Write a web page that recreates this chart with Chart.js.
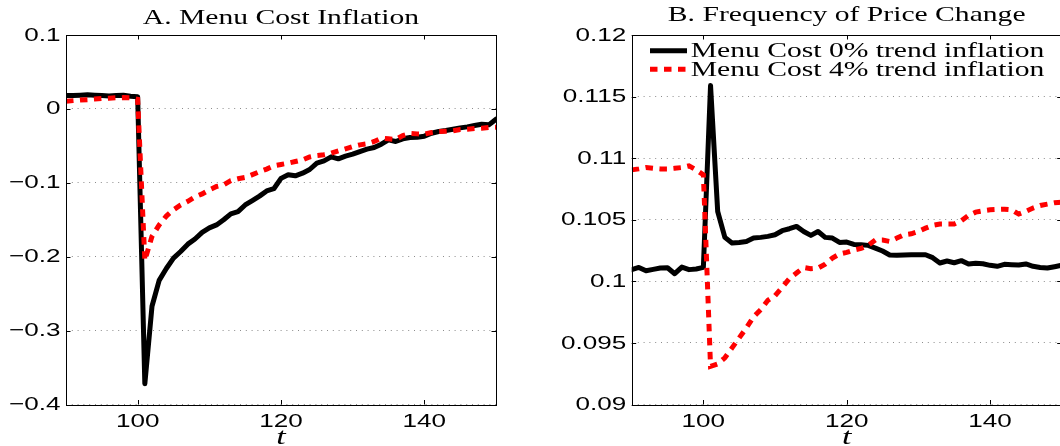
<!DOCTYPE html>
<html>
<head>
<meta charset="utf-8">
<title>Menu cost inflation and frequency of price change</title>
<script src="https://cdn.jsdelivr.net/npm/chart.js@4.4.1/dist/chart.umd.min.js"></script>
<style>
  html, body { margin: 0; padding: 0; background: #fff; overflow: hidden; }
  #wrap { position: relative; width: 1060px; height: 446px; overflow: hidden; }
  .panel { position: absolute; top: 0; height: 446px; }
</style>
</head>
<body>
<div id="wrap">
  <div class="panel" style="left:0"><canvas id="chartA" width="530" height="446"></canvas></div>
  <div class="panel" style="left:530px"><canvas id="chartB" width="534" height="446"></canvas></div>
</div>
<script>
// periods (t)
const periods = [90, 91, 92, 93, 94, 95, 96, 97, 98, 99, 100,
  101, 102, 103, 104, 105, 106, 107, 108, 109, 110,
  111, 112, 113, 114, 115, 116, 117, 118, 119, 120,
  121, 122, 123, 124, 125, 126, 127, 128, 129, 130,
  131, 132, 133, 134, 135, 136, 137, 138, 139, 140,
  141, 142, 143, 144, 145, 146, 147, 148, 149, 150];

// A. inflation response
const inflZero = [0.018, 0.018, 0.0185, 0.019, 0.0185, 0.018, 0.0175, 0.018, 0.0185, 0.017, 0.0165,
  -0.372, -0.267, -0.232, -0.216, -0.202, -0.193, -0.183, -0.176, -0.167, -0.161,
  -0.157, -0.150, -0.142, -0.139, -0.130, -0.124, -0.118, -0.111, -0.108, -0.094,
  -0.089, -0.0905, -0.087, -0.082, -0.0734, -0.0703, -0.0649, -0.0676, -0.064, -0.0613,
  -0.0577, -0.0545, -0.0523, -0.0477, -0.0419, -0.0441, -0.0405, -0.0387, -0.0383, -0.0369,
  -0.0329, -0.0306, -0.0293, -0.0275, -0.0257, -0.0243, -0.0225, -0.0207, -0.0216, -0.014];
const inflFour = [0.0105, 0.0112, 0.012, 0.0125, 0.0133, 0.014, 0.0144, 0.015, 0.0153, 0.015, 0.013,
  -0.205, -0.1725, -0.157, -0.145, -0.1365, -0.130, -0.125, -0.119, -0.115, -0.1095,
  -0.105, -0.1027, -0.097, -0.0946, -0.0928, -0.089, -0.085, -0.0815, -0.077, -0.0752,
  -0.0734, -0.0712, -0.069, -0.065, -0.063, -0.062, -0.060, -0.0568, -0.054, -0.051,
  -0.0487, -0.0473, -0.0441, -0.0396, -0.0405, -0.0414, -0.036, -0.0333, -0.0338, -0.0342,
  -0.032, -0.0306, -0.0302, -0.0297, -0.028, -0.0275, -0.0266, -0.0261, -0.0252, -0.0248];

// B. frequency of price change
const freqZero = [0.10095, 0.10113, 0.10086, 0.10097, 0.10108, 0.1011, 0.10062, 0.10116, 0.10095, 0.101, 0.10113,
  0.1159, 0.10567, 0.10357, 0.10311, 0.10316, 0.10324, 0.10351, 0.10357, 0.10365, 0.10378,
  0.10411, 0.10427, 0.10446, 0.10405, 0.10373, 0.10405, 0.10357, 0.10351, 0.10316, 0.10319,
  0.103, 0.10297, 0.10292, 0.1027, 0.10246, 0.10214, 0.10211, 0.10214, 0.10216, 0.10216,
  0.10216, 0.10192, 0.10149, 0.10165, 0.10151, 0.10168, 0.10141, 0.10146, 0.10143, 0.1013,
  0.10122, 0.10138, 0.10135, 0.10132, 0.10141, 0.10122, 0.10113, 0.10108, 0.10119, 0.1013];
const freqFour = [0.10905, 0.10913, 0.10924, 0.10918, 0.10913, 0.10913, 0.10918, 0.10924, 0.10938, 0.10905, 0.10865,
  0.0931, 0.0933, 0.09379, 0.0946, 0.09541, 0.09622, 0.09711, 0.0977, 0.09846, 0.09884,
  0.09951, 0.10022, 0.10068, 0.10113, 0.10103, 0.10108, 0.1014, 0.10189, 0.10222, 0.10235,
  0.10254, 0.10267, 0.10292, 0.10335, 0.10335, 0.10324, 0.10351, 0.10378, 0.10386, 0.10405,
  0.10432, 0.10454, 0.10465, 0.10465, 0.10465, 0.10492, 0.10535, 0.10562, 0.10573, 0.10581,
  0.10584, 0.10586, 0.10581, 0.10546, 0.10568, 0.10595, 0.10616, 0.10627, 0.10638, 0.10643];

// ticks and labels
const xTicks = [100, 120, 140];
const yTicksInfl = [-0.4, -0.3, -0.2, -0.1, 0, 0.1];
const yLabelsInfl = ['\u22120.4', '\u22120.3', '\u22120.2', '\u22120.1', '0', '0.1'];
const yTicksFreq = [0.09, 0.095, 0.1, 0.105, 0.11, 0.115, 0.12];
const yLabelsFreq = ['0.09', '0.095', '0.1', '0.105', '0.11', '0.115', '0.12'];
const seriesNames = ['Menu Cost 0% trend inflation', 'Menu Cost 4% trend inflation'];
const panelTitles = ['A. Menu Cost Inflation', 'B. Frequency of Price Change'];
const xTitle = 't';

// the original figure is stretched sideways, so text is drawn wider than tall
const STRETCH = 1.41;
const RED_DASH = [7.5, 6.5];

function wideText(ctx, str, x, y, align) {
  ctx.save();
  ctx.translate(x, y);
  ctx.scale(STRETCH, 1);
  ctx.textAlign = align;
  ctx.fillText(str, 0, 0);
  ctx.restore();
}

// box, inward ticks, tick labels, titles and legend in matlab style
const matlabFrame = {
  id: 'matlabFrame',
  afterDraw(chart, args, opts) {
    const { ctx, chartArea: a, scales } = chart;
    const xs = scales.x, ys = scales.y;
    const tl = 4.5;
    ctx.save();
    ctx.strokeStyle = '#000';
    ctx.lineWidth = 1;
    ctx.strokeRect(Math.round(a.left) + 0.5, Math.round(a.top) + 0.5,
      Math.round(a.right) - Math.round(a.left), Math.round(a.bottom) - Math.round(a.top));
    ctx.beginPath();
    xTicks.forEach(v => {
      const px = Math.round(xs.getPixelForValue(v)) + 0.5;
      ctx.moveTo(px, a.bottom); ctx.lineTo(px, a.bottom - tl);
      ctx.moveTo(px, a.top); ctx.lineTo(px, a.top + tl);
    });
    opts.yTicks.forEach(v => {
      const py = Math.round(ys.getPixelForValue(v)) + 0.5;
      ctx.moveTo(a.left, py); ctx.lineTo(a.left + tl, py);
      ctx.moveTo(a.right, py); ctx.lineTo(a.right - tl, py);
    });
    ctx.stroke();

    ctx.fillStyle = '#000';
    ctx.font = '18.5px "Liberation Sans", Arial, sans-serif';
    ctx.textBaseline = 'middle';
    opts.yTicks.forEach((v, i) => wideText(ctx, opts.yLabels[i], a.left - 5.5, ys.getPixelForValue(v) + 0.5, 'right'));
    ctx.textBaseline = 'alphabetic';
    xTicks.forEach(v => wideText(ctx, String(v), xs.getPixelForValue(v), a.bottom + 22, 'center'));

    const cx = (a.left + a.right) / 2;
    ctx.font = 'italic 24px "Liberation Serif", "Times New Roman", serif';
    wideText(ctx, xTitle, cx, 444, 'center');
    ctx.font = '21px "Liberation Serif", "Times New Roman", serif';
    wideText(ctx, opts.title, cx, opts.titleY, 'center');

    if (opts.legend) {
      const rows = [50.7, 69.3];
      chart.data.datasets.slice().sort((p, q) => q.order - p.order).forEach((ds, i) => {
        const yy = rows[i];
        ctx.save();
        ctx.strokeStyle = ds.borderColor;
        ctx.lineWidth = ds.borderWidth;
        ctx.setLineDash(ds.borderDash || []);
        ctx.lineCap = 'butt';
        ctx.beginPath();
        ctx.moveTo(a.left + 18.3, yy);
        ctx.lineTo(a.left + 55.3, yy);
        ctx.stroke();
        ctx.restore();
        wideText(ctx, ds.label, a.left + 59, yy + 6.6, 'left');
      });
    }
    ctx.restore();
  }
};

function makeChart(id, zero, four, yTicks, yLabels, yMin, yMax, pad, frameOpts) {
  const toPoints = vals => periods.map((t, i) => ({ x: t, y: vals[i] }));
  return new Chart(document.getElementById(id), {
    type: 'line',
    data: {
      datasets: [
        {
          label: seriesNames[0],
          data: toPoints(zero),
          borderColor: '#000000',
          borderWidth: 5,
          borderJoinStyle: 'round',
          borderCapStyle: 'round',
          pointRadius: 0,
          tension: 0,
          order: 2
        },
        {
          label: seriesNames[1],
          data: toPoints(four),
          borderColor: '#ff0000',
          borderWidth: 5,
          borderDash: RED_DASH,
          borderCapStyle: 'butt',
          pointRadius: 0,
          tension: 0,
          order: 1
        }
      ]
    },
    options: {
      responsive: false,
      animation: false,
      devicePixelRatio: 1,
      events: [],
      layout: { padding: pad },
      plugins: {
        legend: { display: false },
        tooltip: { enabled: false },
        matlabFrame: Object.assign({ yTicks: yTicks, yLabels: yLabels }, frameOpts)
      },
      scales: {
        x: {
          type: 'linear',
          min: 90,
          max: 150,
          grid: { display: false, drawTicks: false },
          border: { display: false },
          ticks: { display: false },
          afterBuildTicks: s => { s.ticks = xTicks.map(v => ({ value: v })); },
          afterFit: s => { s.height = 0; }
        },
        y: {
          type: 'linear',
          min: yMin,
          max: yMax,
          grid: { color: '#8c8c8c', lineWidth: 1, drawTicks: false },
          border: { display: false, dash: [1, 4.8] },
          ticks: { display: false },
          afterBuildTicks: s => { s.ticks = yTicks.map(v => ({ value: v })); },
          afterFit: s => { s.width = 0; }
        }
      }
    },
    plugins: [matlabFrame]
  });
}

makeChart('chartA', inflZero, inflFour, yTicksInfl, yLabelsInfl, -0.4, 0.1,
  { left: 66, right: 34, top: 35, bottom: 41.5 },
  { title: panelTitles[0], titleY: 24, legend: false });

makeChart('chartB', freqZero, freqFour, yTicksFreq, yLabelsFreq, 0.09, 0.12,
  { left: 101.7, right: 2.3, top: 35, bottom: 41.5 },
  { title: panelTitles[1], titleY: 21, legend: true });
</script>
</body>
</html>
